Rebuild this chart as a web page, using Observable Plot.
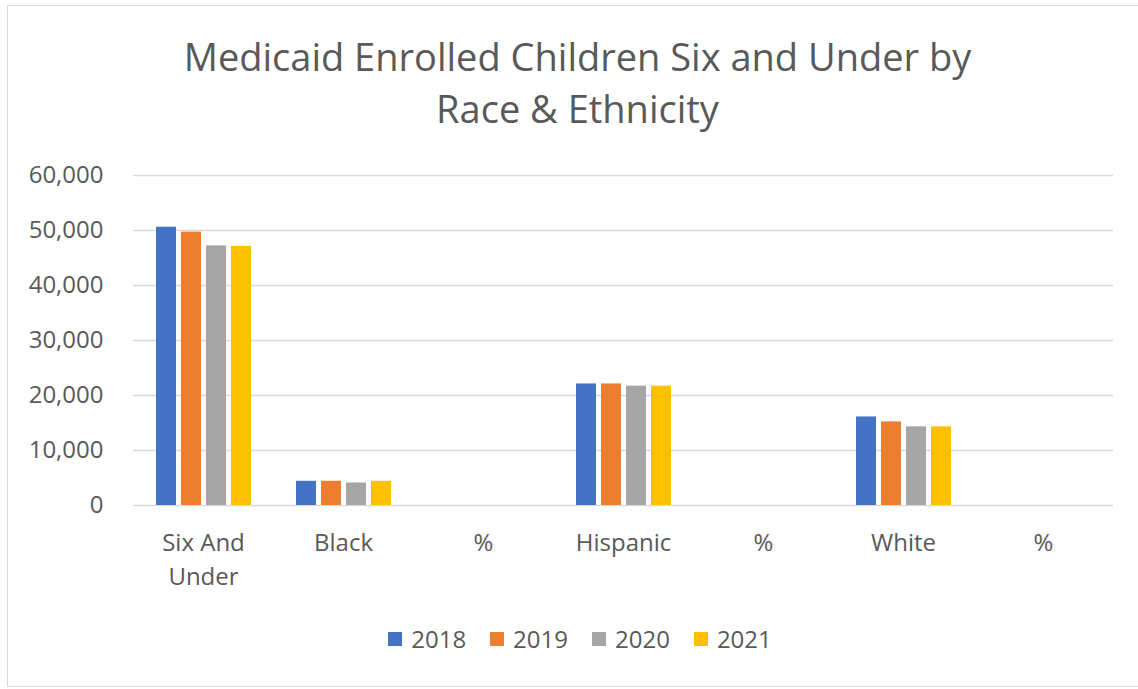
<!DOCTYPE html>
<html>
<head>
<meta charset="utf-8">
<script src="https://cdn.jsdelivr.net/npm/d3@7"></script>
<script src="https://cdn.jsdelivr.net/npm/@observablehq/plot@0.6"></script>
<style>
  html, body { margin: 0; padding: 0; background: #fff; }
  #frame { position: absolute; left: 7px; top: 5px; width: 1131px; height: 682px; box-sizing: border-box;
           border-left: 1px solid #d9d9d9; border-top: 1px solid #d9d9d9; border-bottom: 1px solid #d9d9d9; }
  #title { position: absolute; left: 0; top: 30px; width: 1155px; text-align: center;
           font-family: "Open Sans", sans-serif; font-size: 38px; line-height: 52px; color: #595959; }
  #chart { position: absolute; left: 0; top: 150px; }
  #legend { position: absolute; left: 0; top: 622px; width: 1160px; display: flex; justify-content: center;
            font-family: "Open Sans", sans-serif; font-size: 24px; color: #595959; }
  .item { display: flex; align-items: center; margin: 0 12px; }
  .sw { width: 14px; height: 14px; margin-right: 9px; }
</style>
</head>
<body>
<div id="frame"></div>
<div id="title">Medicaid Enrolled Children Six and Under by<br>Race &amp; Ethnicity</div>
<div id="chart"></div>
<div id="legend"></div>
<script>
const catKeys = ["Six And Under", "Black", "% Black", "Hispanic", "% Hispanic", "White", "% White"];
const catLabels = ["Six And\nUnder", "Black", "%", "Hispanic", "%", "White", "%"];
const years = ["2018", "2019", "2020", "2021"];
const colors = ["#4472C4", "#ED7D31", "#A5A5A5", "#FFC000"];
const yTicks = [0, 10000, 20000, 30000, 40000, 50000, 60000];

const v2018 = [50600, 4400, 0.09, 22100, 0.44, 16100, 0.32];
const v2019 = [49700, 4400, 0.09, 22100, 0.44, 15200, 0.31];
const v2020 = [47200, 4100, 0.09, 21700, 0.46, 14300, 0.30];
const v2021 = [47100, 4400, 0.09, 21700, 0.46, 14300, 0.30];
const series = [v2018, v2019, v2020, v2021];

const data = [];
catKeys.forEach((c, i) => years.forEach((y, j) => data.push({cat: c, year: y, value: series[j][i]})));

const chart = Plot.plot({
  width: 1138,
  height: 455,
  marginLeft: 133,
  marginRight: 25,
  marginTop: 25,
  marginBottom: 100,
  style: {fontFamily: "Open Sans, sans-serif", fontSize: "24px", color: "#595959", background: "transparent"},
  fx: {domain: catKeys, padding: 0, axis: null},
  x: {domain: years, paddingInner: 0.216, paddingOuter: 0.853, axis: null},
  y: {domain: [0, 60000], axis: null},
  color: {domain: years, range: colors},
  marks: [
    Plot.ruleY(yTicks, {stroke: "#d9d9d9", strokeWidth: 1.5}),
    Plot.barY(data, {fx: "cat", x: "year", y: "value", fill: "year"}),
    Plot.axisY({ticks: yTicks, tickSize: 0, tickPadding: 30, tickFormat: d3.format(","), label: null, fontSize: 24}),
    Plot.axisFx({anchor: "bottom", tickSize: 0, tickPadding: 22, label: null, fontSize: 24, lineHeight: 1.4,
                 tickFormat: d => catLabels[catKeys.indexOf(d)]})
  ]
});
document.getElementById("chart").appendChild(chart);

const legend = document.getElementById("legend");
years.forEach((y, i) => {
  const it = document.createElement("div");
  it.className = "item";
  const sw = document.createElement("div");
  sw.className = "sw";
  sw.style.background = colors[i];
  const tx = document.createElement("span");
  tx.textContent = y;
  it.appendChild(sw); it.appendChild(tx);
  legend.appendChild(it);
});
</script>
</body>
</html>
